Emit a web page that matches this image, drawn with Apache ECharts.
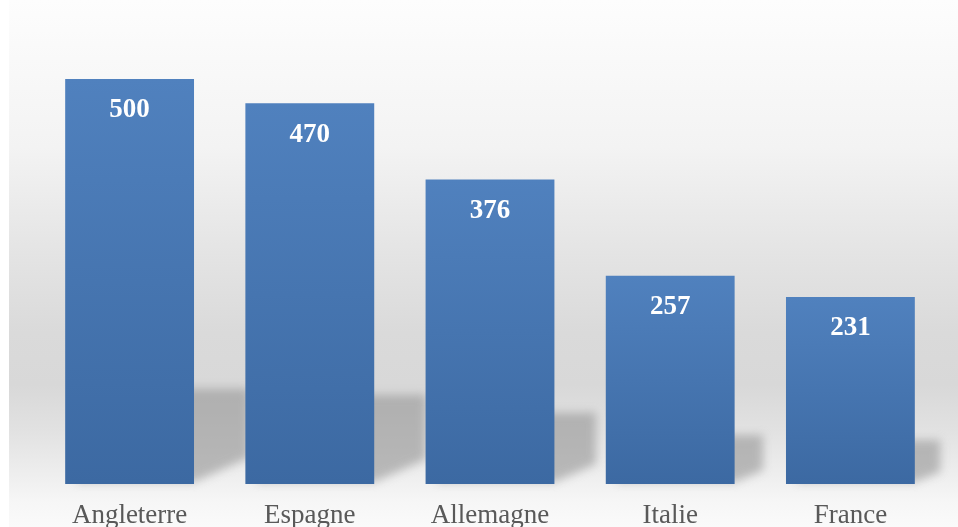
<!DOCTYPE html>
<html>
<head>
<meta charset="utf-8">
<script src="https://cdn.jsdelivr.net/npm/echarts@6/dist/echarts.min.js"></script>
<style>
html,body{margin:0;padding:0;background:#ffffff;}
#chart{width:958px;height:527px;}
</style>
</head>
<body>
<div id="chart"></div>
<script>
const categories = ['Angleterre', 'Espagne', 'Allemagne', 'Italie', 'France'];
const values = [500, 470, 376, 257, 231];

const chart = echarts.init(document.getElementById('chart'), null, {devicePixelRatio: 1});
const BAR_RATIO = 0.715;
const OFF = 3000;

const option = {
  animation: false,
  graphic: [{
    type: 'rect', z: -10, silent: true,
    shape: {x: 9, y: 0, width: 949, height: 527},
    style: {
      fill: new echarts.graphic.LinearGradient(0, 0, 0, 1, [
        {offset: 0, color: '#fdfdfd'},
        {offset: 0.28, color: '#f3f3f3'},
        {offset: 0.48, color: '#e4e4e4'},
        {offset: 0.63, color: '#dadada'},
        {offset: 0.73, color: '#d8d8d8'},
        {offset: 0.82, color: '#e2e2e2'},
        {offset: 0.9, color: '#eeeeee'},
        {offset: 0.95, color: '#f6f6f6'},
        {offset: 1, color: '#fafafa'}
      ])
    }
  }],
  grid: {left: 39.5, right: 17.5, top: 79, bottom: 43, containLabel: false, outerBoundsMode: 'none'},
  xAxis: {
    type: 'category',
    data: categories,
    axisLine: {show: false},
    axisTick: {show: false},
    axisLabel: {
      color: '#595959',
      fontFamily: '"Liberation Serif", "DejaVu Serif", serif',
      fontSize: 27,
      margin: 18
    }
  },
  yAxis: {
    type: 'value', min: 0, max: 500, show: false,
    splitLine: {show: false}
  },
  series: [
    {
      type: 'custom',
      z: 1,
      silent: true,
      clip: false,
      data: values.map((v, i) => [i, v]),
      renderItem: function (params, api) {
        const base = api.coord([api.value(0), 0]);
        const top = api.coord([api.value(0), api.value(1)]);
        const band = api.size([1, 0])[0];
        const half = band * BAR_RATIO / 2;
        const x0 = base[0] - half, x1 = base[0] + half;
        const by = base[1];
        const h = by - top[1];
        const hs = h * 0.235;
        const dx = hs * 0.58;
        const pts = [
          [x0 + 10, by - 2],
          [x1, by - 2],
          [x1 + dx, by - hs * 0.28],
          [x1 + dx, by - hs],
          [x0 + dx, by - hs]
        ].map(p => [p[0] - OFF, p[1]]);
        return {
          type: 'polygon',
          shape: {points: pts},
          style: {
            fill: '#000',
            shadowBlur: 10,
            shadowColor: 'rgba(150,150,150,0.62)',
            shadowOffsetX: OFF,
            shadowOffsetY: 0
          }
        };
      }
    },
    {
      type: 'bar',
      z: 2,
      data: values,
      barCategoryGap: (100 - BAR_RATIO * 100) + '%',
      itemStyle: {
        color: new echarts.graphic.LinearGradient(0, 0, 0, 1, [
          {offset: 0, color: '#5081be'},
          {offset: 1, color: '#3c69a2'}
        ])
      },
      label: {
        show: true,
        position: 'insideTop',
        distance: 18,
        color: '#ffffff',
        fontWeight: 'bold',
        fontFamily: '"Liberation Serif", "DejaVu Serif", serif',
        fontSize: 27
      }
    }
  ]
};
chart.setOption(option);
</script>
</body>
</html>
